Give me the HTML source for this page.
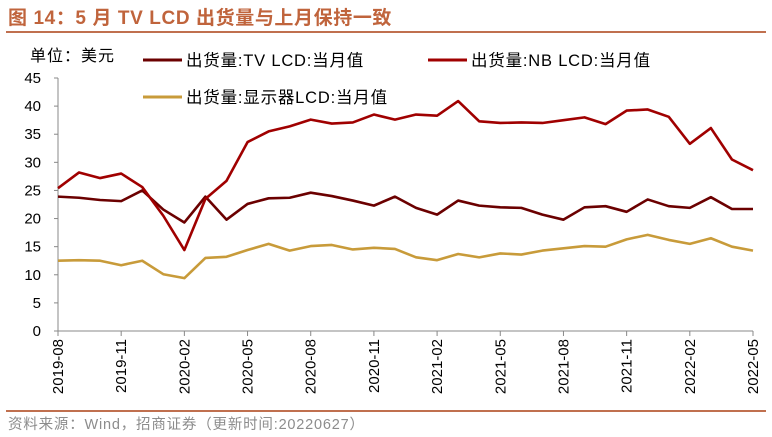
<!DOCTYPE html>
<html><head><meta charset="utf-8"><style>
body{margin:0;background:#fff;width:772px;height:437px;overflow:hidden;font-family:"Liberation Sans","Noto Sans CJK SC",sans-serif}
</style></head><body>
<svg id="c" width="772" height="437" style="position:absolute;left:0;top:0">
<text x="8" y="24" font-size="19" font-weight="bold" fill="#c0643c" letter-spacing="0.6">图 14：5 月 TV LCD 出货量与上月保持一致</text>
<line x1="6" y1="32" x2="766" y2="32" stroke="#c0704f" stroke-width="2"/>
<text x="30" y="61" font-size="16" fill="#000" letter-spacing="1">单位：美元</text>
<g><line x1="143" y1="60" x2="182" y2="60" stroke="#6b0000" stroke-width="3"/><text x="186" y="66" font-size="16.5" letter-spacing="0.8">出货量:TV LCD:当月值</text></g>
<g><line x1="428" y1="60" x2="467" y2="60" stroke="#a00000" stroke-width="3"/><text x="471" y="66" font-size="16.5" letter-spacing="0.8">出货量:NB LCD:当月值</text></g>
<g><line x1="143" y1="97" x2="182" y2="97" stroke="#c89b3a" stroke-width="3"/><text x="186" y="103" font-size="16.5" letter-spacing="0.8">出货量:显示器LCD:当月值</text></g>
<g id="axes"></g><g id="series"></g>
<line x1="6" y1="411" x2="766" y2="411" stroke="#c0704f" stroke-width="2"/>
<text x="8" y="429" font-size="14.5" fill="#8c8c8c" letter-spacing="0.8">资料来源：Wind，招商证券（更新时间:20220627）</text>
</svg>
<script>
const months=["2019-08","2019-09","2019-10","2019-11","2019-12","2020-01","2020-02","2020-03","2020-04","2020-05","2020-06","2020-07","2020-08","2020-09","2020-10","2020-11","2020-12","2021-01","2021-02","2021-03","2021-04","2021-05","2021-06","2021-07","2021-08","2021-09","2021-10","2021-11","2021-12","2022-01","2022-02","2022-03","2022-04","2022-05"];
const tvValues=[23.9,23.7,23.3,23.1,25.0,21.6,19.3,23.9,19.8,22.6,23.6,23.7,24.6,24.0,23.2,22.3,23.9,21.9,20.7,23.2,22.3,22.0,21.9,20.7,19.8,22.0,22.2,21.2,23.4,22.2,21.9,23.8,21.7,21.7];
const nbValues=[25.4,28.2,27.2,28.0,25.6,20.5,14.4,23.5,26.7,33.6,35.5,36.4,37.6,36.9,37.1,38.5,37.6,38.5,38.3,40.9,37.3,37.0,37.1,37.0,37.5,38.0,36.8,39.2,39.4,38.1,33.3,36.1,30.5,28.6];
const displayValues=[12.5,12.6,12.5,11.7,12.5,10.1,9.4,13.0,13.2,14.4,15.5,14.3,15.1,15.3,14.5,14.8,14.6,13.1,12.6,13.7,13.1,13.8,13.6,14.3,14.7,15.1,15.0,16.3,17.1,16.2,15.5,16.5,15.0,14.3];
const yTicks=[0,5,10,15,20,25,30,35,40,45];
const NS="http://www.w3.org/2000/svg";
const X0=58,X1=753,Y0=331,Y1=78,YMAX=45;
const xs=i=>X0+(X1-X0)*i/(months.length-1);
const ys=v=>Y0-(Y0-Y1)*v/YMAX;
const axes=document.getElementById('axes'),ser=document.getElementById('series');
function mk(t,a,p){const e=document.createElementNS(NS,t);for(const k in a)e.setAttribute(k,a[k]);p.appendChild(e);return e;}
const ya=mk('line',{x1:X0,y1:Y1,x2:X0,y2:Y0,stroke:'#888'},axes);


const xa=mk('line',{x1:X0,y1:Y0,x2:X1,y2:Y0,stroke:'#888'},axes);


yTicks.forEach(v=>{
 mk('line',{x1:X0-4,y1:ys(v),x2:X0,y2:ys(v),stroke:'#888'},axes);
 const t=mk('text',{x:X0-17,y:ys(v)+5,'font-size':15,'text-anchor':'end'},axes);t.textContent=v;
 
 
});
months.forEach((m,i)=>{
 if(i%3)return;
 const x=xs(i);
 mk('line',{x1:x,y1:Y0,x2:x,y2:Y0+5,stroke:'#888'},axes);
 const t=mk('text',{x:x+5,y:Y0+8,'font-size':15,'text-anchor':'end',transform:`rotate(-90 ${x+5} ${Y0+8})`},axes);t.textContent=m;
 
 
});
[[displayValues,'#c89b3a','display-line'],[tvValues,'#6b0000','tv-line'],[nbValues,'#a00000','nb-line']].forEach(([d,c,n])=>{
 const p=mk('polyline',{points:d.map((v,i)=>xs(i)+','+ys(v)).join(' '),fill:'none',stroke:c,'stroke-width':2.6,'stroke-linejoin':'round'},ser);
 
 
});
</script>
</body></html>
